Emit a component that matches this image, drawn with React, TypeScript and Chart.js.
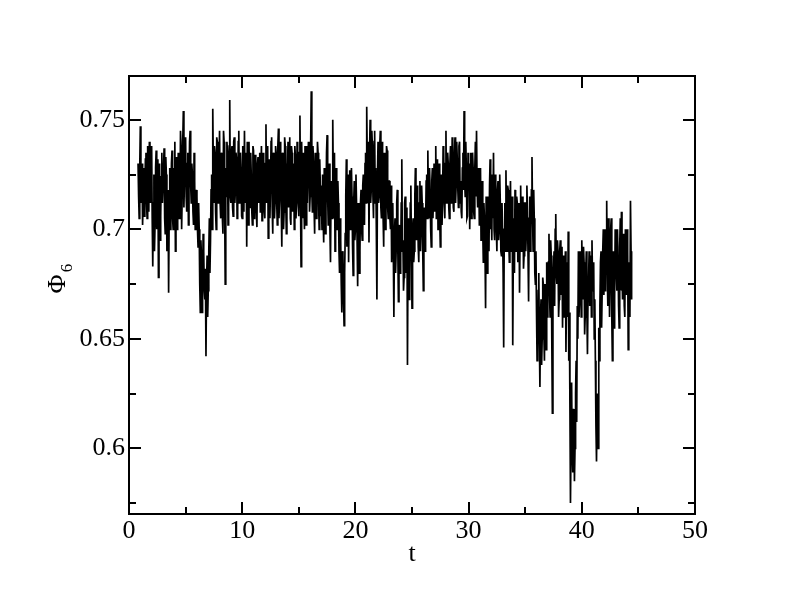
import React, { useEffect, useRef } from 'react';
import { Chart, registerables } from 'chart.js';

Chart.register(...registerables);

// Sampling of the time axis: samples at T_START + i*T_STEP, half-step samples in between
const T_START = 0.8;
const T_STEP = 0.1;

// Phi_6 order parameter at t = 0.8, 0.9, 1.0, ... (one row per unit of t)
const phi6: number[] = [
  0.730, 0.705,
  0.747, 0.712, 0.702, 0.728, 0.718, 0.735, 0.705, 0.722, 0.740, 0.712,
  0.738, 0.683, 0.725, 0.702, 0.736, 0.715, 0.678, 0.730, 0.706, 0.735,
  0.712, 0.737, 0.698, 0.725, 0.705, 0.671, 0.728, 0.712, 0.736, 0.700,
  0.720, 0.690, 0.733, 0.708, 0.726, 0.712, 0.738, 0.716, 0.754, 0.722,
  0.742, 0.708, 0.735, 0.718, 0.745, 0.712, 0.725, 0.702, 0.722, 0.706,
  0.715, 0.692, 0.700, 0.662, 0.688, 0.675, 0.690, 0.668, 0.642, 0.688,
  0.672, 0.705, 0.695, 0.725, 0.755, 0.712, 0.735, 0.700, 0.740, 0.712,
  0.745, 0.705, 0.728, 0.698, 0.740, 0.675, 0.715, 0.735, 0.710, 0.759,
  0.712, 0.738, 0.706, 0.742, 0.718, 0.732, 0.708, 0.745, 0.715, 0.728,
  0.705, 0.732, 0.745, 0.712, 0.692, 0.728, 0.740, 0.710, 0.725, 0.702,
  0.736, 0.714, 0.728, 0.701, 0.733, 0.718, 0.708, 0.738, 0.712, 0.726,
  0.705, 0.748, 0.715, 0.696, 0.732, 0.720, 0.742, 0.698, 0.728, 0.712,
  0.735, 0.702, 0.746, 0.715, 0.725, 0.692, 0.730, 0.708, 0.738, 0.698,
  0.728, 0.710, 0.742, 0.702, 0.735, 0.718, 0.700, 0.733, 0.712, 0.726,
  0.706, 0.752, 0.683, 0.724, 0.735, 0.700, 0.718, 0.738, 0.712, 0.730,
  0.715, 0.763, 0.708, 0.730, 0.698, 0.722, 0.712, 0.735, 0.700, 0.720,
  0.712, 0.725, 0.694, 0.718, 0.708, 0.743, 0.702, 0.730, 0.685, 0.722,
  0.750, 0.705, 0.690, 0.728, 0.700, 0.712, 0.680, 0.695, 0.662, 0.688,
  0.656, 0.698, 0.732, 0.702, 0.685, 0.727, 0.708, 0.715, 0.679, 0.722,
  0.700, 0.712, 0.674, 0.705, 0.690, 0.718, 0.695, 0.725, 0.702, 0.735,
  0.756, 0.712, 0.694, 0.750, 0.718, 0.738, 0.705, 0.745, 0.728, 0.668,
  0.740, 0.715, 0.745, 0.705, 0.730, 0.692, 0.725, 0.712, 0.736, 0.705,
  0.722, 0.700, 0.685, 0.712, 0.660, 0.705, 0.690, 0.718, 0.667, 0.702,
  0.688, 0.732, 0.695, 0.678, 0.715, 0.690, 0.638, 0.705, 0.682, 0.720,
  0.664, 0.705, 0.690, 0.728, 0.695, 0.715, 0.685, 0.722, 0.700, 0.712,
  0.672, 0.710, 0.700, 0.725, 0.736, 0.705, 0.718, 0.692, 0.728, 0.715,
  0.708, 0.738, 0.715, 0.700, 0.730, 0.692, 0.725, 0.712, 0.735, 0.705,
  0.745, 0.712, 0.730, 0.705, 0.738, 0.718, 0.728, 0.708, 0.742, 0.720,
  0.732, 0.710, 0.740, 0.722, 0.705, 0.735, 0.754, 0.715, 0.728, 0.706,
  0.718, 0.700, 0.735, 0.712, 0.728, 0.705, 0.740, 0.745, 0.710, 0.725,
  0.712, 0.695, 0.722, 0.685, 0.705, 0.664, 0.698, 0.715, 0.690, 0.732,
  0.708, 0.725, 0.735, 0.695, 0.715, 0.690, 0.722, 0.700, 0.712, 0.688,
  0.700, 0.646, 0.712, 0.727, 0.690, 0.718, 0.685, 0.722, 0.695, 0.647,
  0.705, 0.718, 0.690, 0.712, 0.700, 0.671, 0.720, 0.695, 0.710, 0.688,
  0.712, 0.698, 0.708, 0.667, 0.715, 0.700, 0.733, 0.690, 0.705, 0.675,
  0.662, 0.645, 0.680, 0.628, 0.668, 0.650, 0.675, 0.640, 0.665, 0.685,
  0.672, 0.698, 0.660, 0.688, 0.616, 0.682, 0.665, 0.707, 0.675, 0.690,
  0.668, 0.695, 0.680, 0.655, 0.688, 0.672, 0.644, 0.685, 0.699, 0.662,
  0.575, 0.630, 0.589, 0.612, 0.600, 0.640, 0.665, 0.690, 0.668, 0.678,
  0.695, 0.668, 0.685, 0.660, 0.690, 0.643, 0.678, 0.665, 0.688, 0.695,
  0.672, 0.650, 0.640, 0.594, 0.625, 0.655, 0.665, 0.690, 0.672, 0.700,
  0.685, 0.700, 0.713, 0.665, 0.695, 0.675, 0.705, 0.640, 0.690, 0.668,
  0.698, 0.672, 0.688, 0.655, 0.705, 0.708, 0.668, 0.690, 0.660, 0.682,
  0.700, 0.645, 0.685, 0.713, 0.668,
];

// Phi_6 at the half-step times t = 0.85, 0.95, 1.05, ...
const phi6Half: number[] = [
  0.715, 0.728,
  0.720, 0.730, 0.715, 0.706, 0.732, 0.712, 0.738, 0.708, 0.720, 0.728,
  0.705, 0.712, 0.690, 0.728, 0.700, 0.732, 0.712, 0.695, 0.724, 0.712,
  0.728, 0.705, 0.733, 0.690, 0.718, 0.708, 0.700, 0.730, 0.705, 0.728,
  0.740, 0.722, 0.700, 0.735, 0.705, 0.745, 0.700, 0.740, 0.710, 0.735,
  0.715, 0.730, 0.702, 0.740, 0.720, 0.730, 0.708, 0.735, 0.700, 0.718,
  0.700, 0.712, 0.675, 0.695, 0.662, 0.698, 0.672, 0.682, 0.675, 0.660,
  0.690, 0.680, 0.718, 0.700, 0.728, 0.738, 0.708, 0.742, 0.715, 0.728,
  0.712, 0.735, 0.705, 0.745, 0.712, 0.728, 0.740, 0.702, 0.738, 0.715,
  0.735, 0.710, 0.740, 0.712, 0.735, 0.705, 0.740, 0.712, 0.735, 0.706,
  0.738, 0.708, 0.718, 0.735, 0.740, 0.702, 0.718, 0.735, 0.708, 0.738,
  0.705, 0.734, 0.708, 0.730, 0.712, 0.735, 0.726, 0.704, 0.735, 0.708,
  0.730, 0.712, 0.738, 0.728, 0.705, 0.740, 0.710, 0.735, 0.705, 0.738,
  0.712, 0.738, 0.705, 0.740, 0.710, 0.735, 0.700, 0.742, 0.712, 0.730,
  0.740, 0.725, 0.705, 0.738, 0.708, 0.730, 0.738, 0.705, 0.740, 0.712,
  0.735, 0.715, 0.740, 0.705, 0.712, 0.738, 0.702, 0.712, 0.740, 0.708,
  0.740, 0.718, 0.738, 0.710, 0.735, 0.705, 0.740, 0.712, 0.732, 0.706,
  0.700, 0.705, 0.728, 0.698, 0.735, 0.715, 0.725, 0.700, 0.718, 0.705,
  0.720, 0.735, 0.712, 0.705, 0.722, 0.690, 0.705, 0.675, 0.690, 0.668,
  0.680, 0.715, 0.692, 0.725, 0.712, 0.700, 0.728, 0.692, 0.712, 0.695,
  0.725, 0.695, 0.712, 0.680, 0.712, 0.700, 0.720, 0.708, 0.730, 0.712,
  0.730, 0.740, 0.735, 0.712, 0.745, 0.715, 0.740, 0.712, 0.700, 0.725,
  0.712, 0.738, 0.710, 0.740, 0.705, 0.735, 0.700, 0.738, 0.710, 0.722,
  0.705, 0.720, 0.702, 0.690, 0.698, 0.680, 0.712, 0.690, 0.700, 0.680,
  0.712, 0.690, 0.672, 0.712, 0.680, 0.710, 0.692, 0.668, 0.712, 0.690,
  0.700, 0.685, 0.715, 0.700, 0.720, 0.692, 0.712, 0.690, 0.720, 0.690,
  0.700, 0.690, 0.722, 0.705, 0.712, 0.728, 0.700, 0.722, 0.705, 0.730,
  0.725, 0.705, 0.732, 0.720, 0.705, 0.722, 0.702, 0.738, 0.712, 0.730,
  0.712, 0.735, 0.710, 0.730, 0.712, 0.742, 0.710, 0.735, 0.712, 0.740,
  0.718, 0.738, 0.712, 0.708, 0.728, 0.718, 0.722, 0.740, 0.705, 0.735,
  0.730, 0.722, 0.705, 0.735, 0.708, 0.728, 0.715, 0.720, 0.728, 0.702,
  0.728, 0.710, 0.700, 0.712, 0.690, 0.715, 0.680, 0.702, 0.720, 0.700,
  0.695, 0.705, 0.700, 0.725, 0.700, 0.718, 0.695, 0.725, 0.690, 0.712,
  0.680, 0.700, 0.690, 0.700, 0.720, 0.695, 0.712, 0.690, 0.715, 0.690,
  0.680, 0.700, 0.715, 0.685, 0.712, 0.700, 0.690, 0.715, 0.682, 0.712,
  0.690, 0.720, 0.688, 0.705, 0.690, 0.718, 0.705, 0.718, 0.680, 0.690,
  0.640, 0.672, 0.650, 0.660, 0.638, 0.678, 0.652, 0.675, 0.645, 0.660,
  0.685, 0.670, 0.695, 0.650, 0.672, 0.690, 0.700, 0.680, 0.695, 0.660,
  0.690, 0.670, 0.692, 0.680, 0.660, 0.690, 0.670, 0.660, 0.640, 0.620,
  0.605, 0.598, 0.618, 0.585, 0.625, 0.612, 0.650, 0.660, 0.690, 0.660,
  0.678, 0.692, 0.652, 0.680, 0.662, 0.670, 0.690, 0.680, 0.660, 0.675,
  0.685, 0.668, 0.610, 0.620, 0.600, 0.640, 0.685, 0.655, 0.690, 0.670,
  0.672, 0.690, 0.680, 0.705, 0.660, 0.700, 0.660, 0.682, 0.655, 0.700,
  0.680, 0.700, 0.665, 0.692, 0.672, 0.680, 0.698, 0.665, 0.700, 0.670,
  0.690, 0.672, 0.660, 0.690,
];

const X_MIN = 0;
const X_MAX = 50;
const Y_MIN = 0.57;
const Y_MAX = 0.77;
const xMajorTicks = [0, 10, 20, 30, 40, 50];
const xMinorTicks = [5, 15, 25, 35, 45];
const yMajorTicks = [0.6, 0.65, 0.7, 0.75];
const yMinorTicks = [0.575, 0.625, 0.675, 0.725];
const xTitle = 't';
const yTitleMain = 'Φ';
const yTitleSub = '6';

const FONT = '"Liberation Serif", "Times New Roman", serif';

const framePlugin = {
  id: 'xmgraceFrame',
  afterDraw(chart: any) {
    const { ctx, chartArea } = chart;
    const { left, right, top, bottom } = chartArea;
    const xs = chart.scales.x;
    const ys = chart.scales.y;
    ctx.save();
    ctx.strokeStyle = '#000';
    ctx.lineWidth = 2;
    ctx.strokeRect(left, top, right - left, bottom - top);
    const MAJ = 12;
    const MIN = 7;
    ctx.beginPath();
    const xt = (vals: number[], len: number) => {
      vals.forEach((v) => {
        const px = Math.round(xs.getPixelForValue(v));
        ctx.moveTo(px, bottom);
        ctx.lineTo(px, bottom - len);
        ctx.moveTo(px, top);
        ctx.lineTo(px, top + len);
      });
    };
    const yt = (vals: number[], len: number) => {
      vals.forEach((v) => {
        const py = Math.round(ys.getPixelForValue(v));
        ctx.moveTo(left, py);
        ctx.lineTo(left + len, py);
        ctx.moveTo(right, py);
        ctx.lineTo(right - len, py);
      });
    };
    xt(xMajorTicks, MAJ);
    xt(xMinorTicks, MIN);
    yt(yMajorTicks, MAJ);
    yt(yMinorTicks, MIN);
    ctx.stroke();

    // y axis title with subscript
    ctx.fillStyle = '#000';
    ctx.translate(58, 284);
    ctx.rotate(-Math.PI / 2);
    ctx.textAlign = 'center';
    ctx.textBaseline = 'middle';
    ctx.font = `26px ${FONT}`;
    ctx.fillText(yTitleMain, 0, 0);
    ctx.font = `17px ${FONT}`;
    ctx.fillText(yTitleSub, 16, 10);
    ctx.restore();
  },
};

export default function App() {
  const canvasRef = useRef<HTMLCanvasElement | null>(null);

  useEffect(() => {
    document.body.style.margin = '0';
    const canvas = canvasRef.current;
    if (!canvas) return;
    const points: { x: number; y: number }[] = [];
    phi6.forEach((v, i) => {
      points.push({ x: +(T_START + i * T_STEP).toFixed(3), y: v });
      if (i < phi6Half.length) {
        points.push({ x: +(T_START + (i + 0.5) * T_STEP).toFixed(3), y: phi6Half[i] });
      }
    });
    const chart = new Chart(canvas, {
      type: 'line',
      data: {
        datasets: [
          {
            data: points,
            borderColor: '#000',
            borderWidth: 1.7,
            pointRadius: 0,
            tension: 0,
            fill: false,
          },
        ],
      },
      options: {
        responsive: false,
        animation: false,
        events: [],
        layout: { padding: { top: 76, right: 97, left: 0, bottom: 0 } },
        plugins: {
          legend: { display: false },
          tooltip: { enabled: false },
        },
        scales: {
          x: {
            type: 'linear',
            min: X_MIN,
            max: X_MAX,
            afterBuildTicks: (scale: any) => {
              scale.ticks = xMajorTicks.map((v) => ({ value: v }));
            },
            afterFit: (scale: any) => {
              scale.height = 91;
            },
            grid: { display: false, drawTicks: false },
            border: { display: false },
            ticks: {
              color: '#000',
              padding: 2,
              maxRotation: 0,
              font: { family: FONT, size: 26 },
              callback: (v: any) => String(v),
            },
            title: {
              display: true,
              text: xTitle,
              color: '#000',
              font: { family: FONT, size: 26 },
              padding: { top: 0, bottom: 35 },
            },
          },
          y: {
            type: 'linear',
            min: Y_MIN,
            max: Y_MAX,
            afterBuildTicks: (scale: any) => {
              scale.ticks = yMajorTicks.map((v) => ({ value: v }));
            },
            afterFit: (scale: any) => {
              scale.width = 129;
            },
            grid: { display: false, drawTicks: false },
            border: { display: false },
            ticks: {
              color: '#000',
              padding: 4,
              font: { family: FONT, size: 26 },
              callback: (v: any) => String(parseFloat(Number(v).toFixed(3))),
            },
          },
        },
      },
      plugins: [framePlugin],
    });
    return () => chart.destroy();
  }, []);

  return (
    <div style={{ width: 792, height: 605, background: '#fff' }}>
      <canvas ref={canvasRef} width={792} height={605} />
    </div>
  );
}
